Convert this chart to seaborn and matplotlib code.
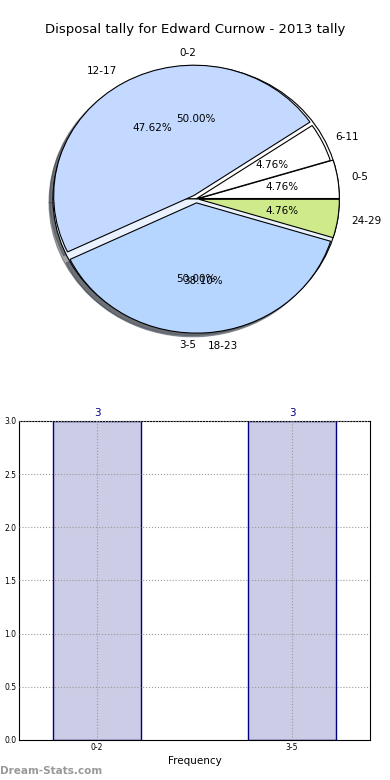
import matplotlib
matplotlib.use("Agg")
import matplotlib.pyplot as plt
import seaborn as sns
import pandas as pd

# pie data, two series drawn on the same axes
outer_labels = ["0-2", "3-5"]
outer_values = [3, 3]
inner_labels = ["0-5", "6-11", "12-17", "18-23", "24-29"]
inner_values = [1, 1, 10, 8, 1]

# bar data
bar_cats = ["0-2", "3-5"]
bar_vals = [3, 3]

title = "Disposal tally for Edward Curnow - 2013 tally"

def main():
	sns.set_style("white")
	plt.rcParams["font.family"] = ["DejaVu Sans"]
	plt.rcParams["text.color"] = "black"
	plt.rcParams["axes.labelcolor"] = "black"
	plt.rcParams["xtick.color"] = "black"
	plt.rcParams["ytick.color"] = "black"
	fig = plt.figure(figsize=(3.9, 7.8), dpi=100)

	# pie
	ax1 = fig.add_axes([0.044, 0.532, 0.918, 0.426])
	wedges, texts, autotexts = ax1.pie(outer_values, labels=outer_labels, autopct="%.2f%%", shadow=True,
		colors=["white", "#eaf2ff"], radius=1.0,
		wedgeprops={"edgecolor": "black", "linewidth": 0.8},
		textprops={"fontsize": 7.5})
	texts[1].set_ha("right")  # 3-5 sits left of 18-23
	ax1.pie(inner_values, labels=inner_labels, autopct="%.2f%%", shadow=True,
		colors=["white", "white", "#c4d9ff", "#b7d6ff", "#cfea8b"],
		radius=0.98, explode=[0.02, 0.0, 0.03, 0.03, 0.02],
		wedgeprops={"edgecolor": "black", "linewidth": 0.8},
		textprops={"fontsize": 7.5})
	ax1.set_aspect("auto")
	ax1.set_xlim(-1.25, 1.25)
	ax1.set_ylim(-1.25, 1.25)
	fig.text(0.5, 1 - 30 / 780, title, ha="center", va="center", fontsize=9.5)

	# bars
	ax2 = fig.add_axes([0.049, 0.0513, 0.9, 0.409])
	df = pd.DataFrame({"cat": bar_cats, "val": bar_vals})
	sns.barplot(data=df, x="cat", y="val", color="#ccccE6", saturation=1,
		edgecolor="#000080", linewidth=1, width=0.45, ax=ax2)
	ax2.set_xlim(-0.4, 1.4)
	ax2.set_ylim(0, 3.0)
	ax2.set_yticks([0, 0.5, 1.0, 1.5, 2.0, 2.5, 3.0])
	ax2.set_yticklabels(["0.0", "0.5", "1.0", "1.5", "2.0", "2.5", "3.0"])
	ax2.tick_params(axis="both", labelsize=5.5, direction="in", length=3, pad=2)
	ax2.grid(True, linestyle=":", color="#999999", linewidth=0.8)
	ax2.set_axisbelow(False)
	for s in ax2.spines.values():
		s.set_visible(True)
		s.set_color("black")
		s.set_linewidth(0.8)
	ax2.set_xlabel("Frequency", fontsize=7.5, labelpad=3)
	ax2.set_ylabel("")
	ax2.bar_label(ax2.containers[0], color="#000080", fontsize=7.5, padding=2)

	fig.text(0.0, 1 - 771 / 780, "Dream-Stats.com", ha="left", va="center",
		fontsize=7.5, color="#999999", fontweight="bold")

	fig.savefig("out.png", dpi=100)

if __name__ == "__main__":
	main()
